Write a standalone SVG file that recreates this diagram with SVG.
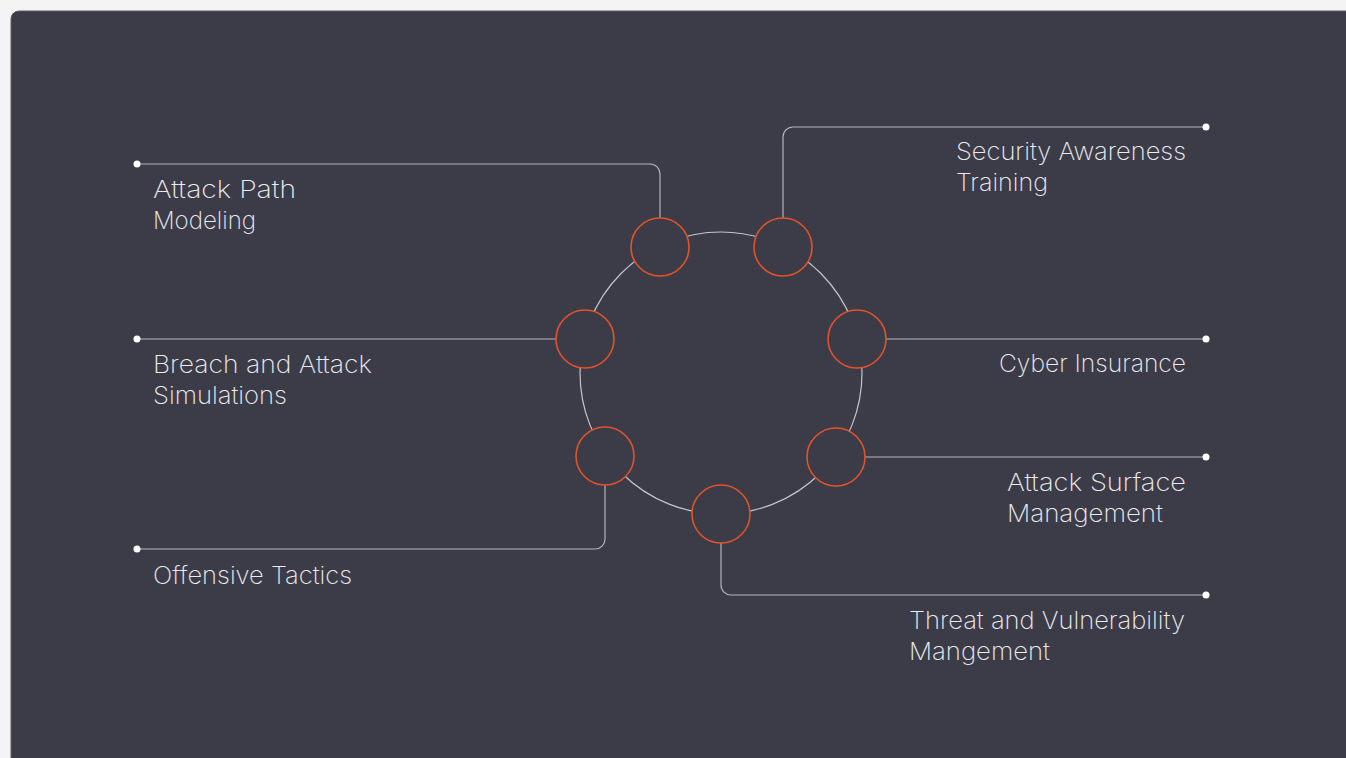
<svg xmlns="http://www.w3.org/2000/svg" width="1346" height="758" viewBox="0 0 1346 758">
  <defs>
    <style>
      .wire { fill: none; stroke: #b4b4bc; stroke-width: 1.2; }
      .ring { fill: none; stroke: #c4c4cc; stroke-width: 1.2; }
      .node { fill: #3c3c48; stroke: #e2532b; stroke-width: 1.6; }
      .dot { fill: #ffffff; }
      .label { font-family: "Inter", "Lato", "Liberation Sans", sans-serif; font-weight: 200; font-size: 24px; fill: #ececf0; }
    </style>
  </defs>

  <!-- page and card -->
  <rect x="0" y="0" width="1346" height="758" fill="#f4f4f4"/>
  <rect x="11" y="11" width="1360" height="780" rx="8" ry="8" fill="#3c3c48" stroke="#5c5c66" stroke-width="1"/>

  <!-- central ring -->
  <circle class="ring" cx="721" cy="373" r="141"/>

  <!-- connectors -->
  <g id="connectors">
    <path class="wire" d="M137,164 H650 A10,10 0 0 1 660,174 V218"/>
    <path class="wire" d="M783,218 V137 A10,10 0 0 1 793,127 H1206"/>
    <path class="wire" d="M137,339 H556"/>
    <path class="wire" d="M886,339 H1206"/>
    <path class="wire" d="M865,457 H1206"/>
    <path class="wire" d="M605,485 V539 A10,10 0 0 1 595,549 H137"/>
    <path class="wire" d="M721,543 V585 A10,10 0 0 0 731,595 H1206"/>
    <circle class="dot" cx="137" cy="164" r="3.5"/>
    <circle class="dot" cx="1206" cy="127" r="3.5"/>
    <circle class="dot" cx="137" cy="339" r="3.5"/>
    <circle class="dot" cx="1206" cy="339" r="3.5"/>
    <circle class="dot" cx="1206" cy="457" r="3.5"/>
    <circle class="dot" cx="137" cy="549" r="3.5"/>
    <circle class="dot" cx="1206" cy="595" r="3.5"/>
  </g>

  <!-- nodes on the ring -->
  <g id="attack-path-modeling">
    <circle class="node" cx="660" cy="247" r="29"/>
    <text class="label" x="153" y="198" textLength="143" lengthAdjust="spacingAndGlyphs">Attack Path</text>
    <text class="label" x="153" y="229" textLength="103" lengthAdjust="spacingAndGlyphs">Modeling</text>
  </g>
  <g id="security-awareness-training">
    <circle class="node" cx="783" cy="247" r="29"/>
    <text class="label" x="956" y="160" textLength="230" lengthAdjust="spacingAndGlyphs">Security Awareness</text>
    <text class="label" x="956" y="191" textLength="92" lengthAdjust="spacingAndGlyphs">Training</text>
  </g>
  <g id="breach-and-attack-simulations">
    <circle class="node" cx="585" cy="339" r="29"/>
    <text class="label" x="153" y="373" textLength="219" lengthAdjust="spacingAndGlyphs">Breach and Attack</text>
    <text class="label" x="153" y="404" textLength="134" lengthAdjust="spacingAndGlyphs">Simulations</text>
  </g>
  <g id="cyber-insurance">
    <circle class="node" cx="857" cy="339" r="29"/>
    <text class="label" x="999" y="372" textLength="187" lengthAdjust="spacingAndGlyphs">Cyber Insurance</text>
  </g>
  <g id="offensive-tactics">
    <circle class="node" cx="605" cy="456" r="29"/>
    <text class="label" x="153" y="584" textLength="199" lengthAdjust="spacingAndGlyphs">Offensive Tactics</text>
  </g>
  <g id="attack-surface-management">
    <circle class="node" cx="836" cy="457" r="29"/>
    <text class="label" x="1007" y="491" textLength="179" lengthAdjust="spacingAndGlyphs">Attack Surface</text>
    <text class="label" x="1007" y="522" textLength="156" lengthAdjust="spacingAndGlyphs">Management</text>
  </g>
  <g id="threat-and-vulnerability-management">
    <circle class="node" cx="721" cy="514" r="29"/>
    <text class="label" x="909" y="629" textLength="276" lengthAdjust="spacingAndGlyphs">Threat and Vulnerability</text>
    <text class="label" x="909" y="660" textLength="141" lengthAdjust="spacingAndGlyphs">Mangement</text>
  </g>
</svg>
